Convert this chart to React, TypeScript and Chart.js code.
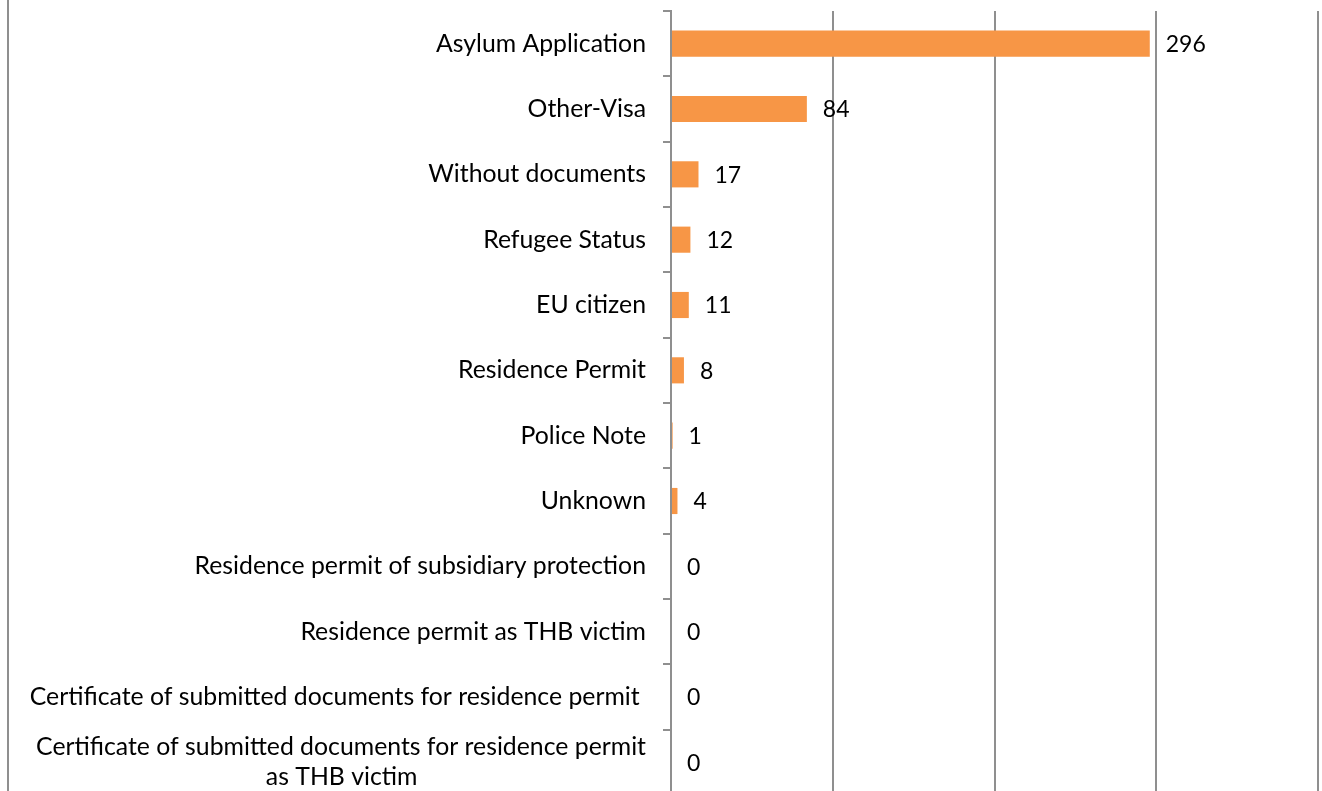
import React, { useEffect, useRef } from "react";
import { Chart, registerables } from "chart.js";

Chart.register(...registerables);

const categories: (string | string[])[] = [
  "Asylum Application",
  "Other-Visa",
  "Without documents",
  "Refugee Status",
  "EU citizen",
  "Residence Permit",
  "Police Note",
  "Unknown",
  "Residence permit of subsidiary protection",
  "Residence permit as THB victim",
  "Certificate of submitted documents for residence permit ",
  [
    "Certificate of submitted documents for residence permit",
    "as THB victim" + " ".repeat(36),
  ],
];
const values: number[] = [296, 84, 17, 12, 11, 8, 1, 4, 0, 0, 0, 0];
const xTicks: number[] = [0, 100, 200, 300, 400];

const FONT = "Lato, 'Open Sans', sans-serif";
const GRID = "#8f8f8f";

const valueLabels = {
  id: "valueLabels",
  afterDatasetsDraw(chart: any) {
    const ctx = chart.ctx;
    const meta = chart.getDatasetMeta(0);
    ctx.save();
    ctx.font = `23px ${FONT}`;
    ctx.fillStyle = "#000";
    ctx.textAlign = "left";
    ctx.textBaseline = "middle";
    meta.data.forEach((el: any, i: number) => {
      ctx.fillText(String(values[i]), el.x + 16, el.y + 1);
    });
    ctx.restore();
  },
};

export default function App() {
  const ref = useRef<HTMLCanvasElement>(null);
  useEffect(() => {
    if (!ref.current) return;
    const chart = new Chart(ref.current, {
      type: "bar",
      data: {
        labels: categories,
        datasets: [
          {
            data: values,
            backgroundColor: "#F79646",
            borderWidth: 0,
            categoryPercentage: 0.8,
            barPercentage: 0.5,
          },
        ],
      },
      options: {
        indexAxis: "y",
        animation: false,
        responsive: false,
        maintainAspectRatio: false,
        layout: { padding: { top: 11, right: 4, bottom: 0, left: 0 } },
        plugins: { legend: { display: false }, tooltip: { enabled: false } },
        scales: {
          x: {
            min: xTicks[0],
            max: xTicks[xTicks.length - 1],
            afterBuildTicks: (scale: any) => {
              scale.ticks = xTicks.map((v) => ({ value: v }));
            },
            afterFit: (scale: any) => {
              scale.paddingLeft = 0;
              scale.paddingRight = 0;
            },
            ticks: { display: false },
            grid: { color: GRID, lineWidth: 2, drawTicks: false },
            border: { display: false },
          },
          y: {
            afterFit: (scale: any) => {
              scale.width = 671;
              scale.paddingTop = 0;
              scale.paddingBottom = 0;
            },
            ticks: {
              color: "#000",
              font: { family: FONT, size: 24.8 },
              padding: 17,
              autoSkip: false,
            },
            grid: {
              drawOnChartArea: false,
              drawTicks: true,
              tickLength: 8,
              color: GRID,
              lineWidth: 2,
            },
            border: { display: true, color: GRID, width: 2 },
          },
        },
      },
      plugins: [valueLabels],
    });
    return () => chart.destroy();
  }, []);
  return (
    <div style={{ position: "fixed", left: 0, top: 0, width: 1322, height: 791, background: "#fff", overflow: "hidden" }}>
      <div style={{ position: "absolute", left: 7, top: 0, width: 2, height: 791, background: GRID }} />
      <canvas ref={ref} width={1322} height={795} style={{ position: "absolute", left: 0, top: 0 }} />
    </div>
  );
}
